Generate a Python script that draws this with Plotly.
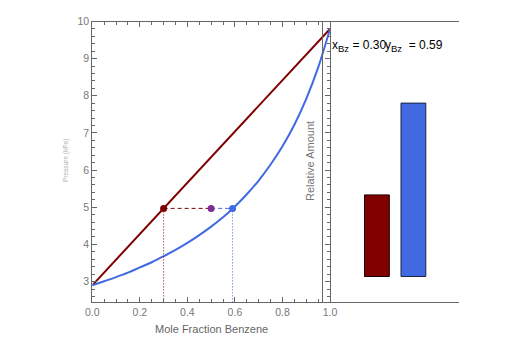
import plotly.graph_objects as go

# Benzene–toluene liquid/vapour phase diagram (pressures in kPa)
liquid_x = [0.0, 1.0]
liquid_p = [2.90, 9.80]

vapor_y = [0.00, 0.05, 0.10, 0.15, 0.20, 0.25, 0.30, 0.35, 0.40, 0.45, 0.50,
           0.55, 0.60, 0.65, 0.70, 0.75, 0.80, 0.85, 0.90, 0.95, 1.00]
vapor_p = [2.90, 3.01, 3.12, 3.24, 3.38, 3.52, 3.68, 3.85, 4.04, 4.25, 4.48,
           4.73, 5.02, 5.35, 5.72, 6.15, 6.64, 7.22, 7.92, 8.76, 9.80]

# Tie line at the system pressure
x_bz = 0.30          # liquid composition
z_bz = 0.50          # overall composition
y_bz = 0.59          # vapour composition
p_sys = 4.97

# Relative amounts of each phase
phase_names = ["Liquid", "Vapor"]
phase_amounts = [0.32, 0.68]

RED = "#800000"
BLUE = "#4169E1"
PURPLE = "#7B2D96"
AXIS = "#666666"
FAMILY = "Liberation Sans, Arial, sans-serif"
TICKFONT = dict(family=FAMILY, size=10.5, color="#777777")

W, H = 525, 350
def px(x):
    return x / W
def py(y):
    return 1 - y / H

p_range = [2.45, 10.0]

fig = go.Figure()

fig.add_trace(go.Scatter(x=liquid_x, y=liquid_p, mode="lines",
                         line=dict(color=RED, width=2), showlegend=False))
fig.add_trace(go.Scatter(x=vapor_y, y=vapor_p, mode="lines", line_shape="spline",
                         line=dict(color=BLUE, width=2), showlegend=False))

# dashed tie line segments
fig.add_trace(go.Scatter(x=[x_bz, z_bz], y=[p_sys, p_sys], mode="lines",
                         line=dict(color=RED, width=1, dash="4px,3px"), showlegend=False))
fig.add_trace(go.Scatter(x=[z_bz, y_bz], y=[p_sys, p_sys], mode="lines",
                         line=dict(color=BLUE, width=1, dash="4px,3px"), showlegend=False))
# dotted drop lines to the composition axis
fig.add_trace(go.Scatter(x=[x_bz, x_bz], y=[p_sys, p_range[0]], mode="lines",
                         line=dict(color=RED, width=1, dash="1px,2px"), showlegend=False))
fig.add_trace(go.Scatter(x=[y_bz, y_bz], y=[p_sys, p_range[0]], mode="lines",
                         line=dict(color=BLUE, width=1, dash="1px,2px"), showlegend=False))

fig.add_trace(go.Scatter(x=[x_bz, z_bz, y_bz], y=[p_sys] * 3, mode="markers",
                         marker=dict(size=7, color=[RED, PURPLE, BLUE]), showlegend=False))

# phase amount bars
fig.add_trace(go.Bar(x=[1, 2], y=phase_amounts, width=0.68, xaxis="x2", yaxis="y2",
                     marker=dict(color=[RED, BLUE],
                                 line=dict(color=["#1a0000", "#1a2540"], width=1)),
                     hovertext=phase_names, showlegend=False))

SUB = "<sub><span style='font-size:9.5px'>Bz</span></sub>"

fig.update_layout(
    width=W, height=H,
    margin=dict(l=0, r=0, t=0, b=0, autoexpand=False),
    paper_bgcolor="white", plot_bgcolor="rgba(0,0,0,0)",
    xaxis=dict(domain=[px(92.3), px(330)], range=[0, 1], anchor="y", automargin=False,
               showline=True, linecolor=AXIS, linewidth=1, mirror="ticks",
               ticks="inside", ticklen=5, tickcolor=AXIS, dtick=0.2, tick0=0,
               tickformat=".1f", tickfont=TICKFONT,
               minor=dict(dtick=0.05, ticks="inside", ticklen=3, tickcolor=AXIS),
               showgrid=False, zeroline=False),
    yaxis=dict(domain=[py(302), py(21.5)], range=p_range, anchor="x", automargin=False,
               showline=True, linecolor=AXIS, linewidth=1, mirror="ticks",
               ticks="inside", ticklen=5, tickcolor=AXIS, dtick=1, tick0=0,
               tickfont=TICKFONT,
               minor=dict(dtick=0.2, ticks="inside", ticklen=3, tickcolor=AXIS),
               showgrid=False, zeroline=False),
    xaxis2=dict(domain=[px(323.3), px(459)], range=[-0.47, 3.25], anchor="y2",
                automargin=False,
                showline=True, linecolor=AXIS, linewidth=1, mirror=True,
                ticks="", showticklabels=False, showgrid=False, zeroline=False),
    yaxis2=dict(domain=[py(302), py(21.5)], range=[-0.1, 1.0], anchor="x2",
                automargin=False,
                showline=True, linecolor=AXIS, linewidth=1,
                ticks="", showticklabels=False, showgrid=False, zeroline=False),
    annotations=[
        dict(text="Mole Fraction Benzene", x=px(211), y=py(329), xref="paper", yref="paper",
             xanchor="center", yanchor="middle", showarrow=False,
             font=dict(family=FAMILY, size=11, color="#666666")),
        dict(text="Pressure (kPa)", x=px(66), y=py(161), xref="paper", yref="paper",
             xanchor="center", yanchor="middle", textangle=-90, showarrow=False,
             font=dict(family=FAMILY, size=6.5, color="#b0b0b0")),
        dict(text="Relative Amount", x=px(310), y=py(161), xref="paper", yref="paper",
             xanchor="center", yanchor="middle", textangle=-90, showarrow=False,
             font=dict(family=FAMILY, size=11, color="#777777")),
        dict(text=f"x{SUB} = {x_bz:.2f}",
             x=px(330), y=py(46), xref="paper", yref="paper", xanchor="left",
             yanchor="middle", showarrow=False,
             font=dict(family=FAMILY, size=12, color="black")),
        dict(text=f"y{SUB}&nbsp; = {y_bz:.2f}",
             x=px(383), y=py(46), xref="paper", yref="paper", xanchor="left",
             yanchor="middle", showarrow=False,
             font=dict(family=FAMILY, size=12, color="black")),
    ],
)

fig.write_html("out.html")
